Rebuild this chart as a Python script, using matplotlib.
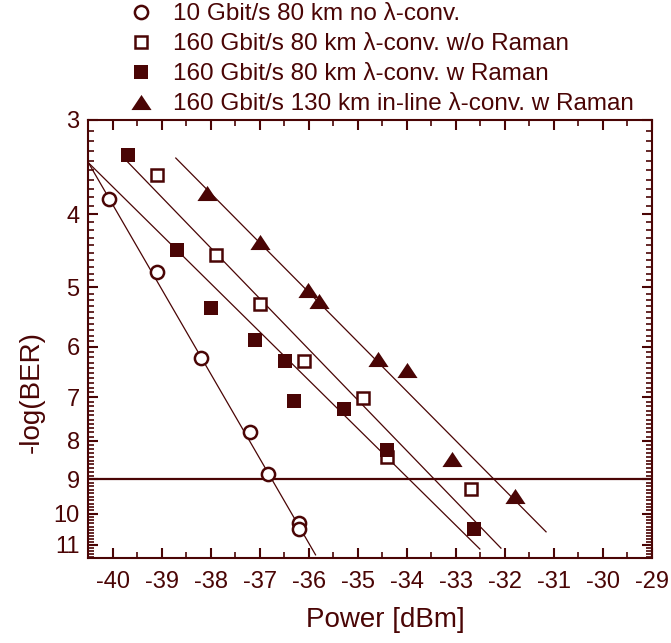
import numpy as np
import matplotlib
matplotlib.use('Agg')
import matplotlib.pyplot as plt
from matplotlib.ticker import FixedLocator, NullFormatter, FixedFormatter
from matplotlib.lines import Line2D

# measured points
p10_x = [-40.08, -39.10, -38.20, -37.20, -36.82, -36.20, -36.20]
p10_y = [3.82, 4.78, 6.21, 7.79, 8.86, 10.29, 10.48]

noram_x = [-39.10, -37.90, -37.00, -36.10, -34.90, -34.41, -32.69]
noram_y = [3.55, 4.53, 5.27, 6.27, 7.02, 8.41, 9.27]

ram_x = [-39.69, -38.69, -38.00, -37.10, -36.49, -36.29, -35.29, -34.41, -32.63]
ram_y = [3.34, 4.46, 5.33, 5.88, 6.27, 7.09, 7.26, 8.23, 10.48]

inline_x = [-38.08, -37.00, -36.02, -35.80, -34.59, -34.00, -33.08, -31.80]
inline_y = [3.75, 4.36, 5.05, 5.22, 6.23, 6.44, 8.46, 9.47]

# fitted lines (end points)
fit_lines = [
    ([-40.49, -35.86], [3.42, 11.34]),
    ([-40.49, -32.51], [3.42, 11.14]),
    ([-39.73, -32.08], [3.39, 11.11]),
    ([-38.71, -31.16], [3.37, 10.57]),
]
ber_limit = 9

labels = ['10 Gbit/s 80 km no λ-conv.',
          '160 Gbit/s 80 km λ-conv. w/o Raman',
          '160 Gbit/s 80 km λ-conv. w Raman',
          '160 Gbit/s 130 km in-line λ-conv. w Raman']

C = '#4a0505'
plt.rcParams['font.family'] = ['Liberation Sans', 'DejaVu Sans']
plt.rcParams['text.color'] = C

fig = plt.figure(figsize=(6.71, 6.43), dpi=100)
ax = fig.add_axes([88/671, 1-558/643, 564/671, 438/643])

for xs, ys in fit_lines:
    ax.plot(xs, ys, color=C, lw=0.9, zorder=2)
ax.axhline(ber_limit, color=C, lw=1.6, zorder=2)

tri = [(0, 0.75), (-1, -0.75), (1, -0.75)]
ax.plot(p10_x, p10_y, 'o', ms=9.5, mfc='white', mec=C, mew=1.8, zorder=3)
ax.plot(noram_x, noram_y, 's', ms=9, mfc='white', mec=C, mew=1.8, zorder=3)
ax.plot(ram_x, ram_y, 's', ms=10, mfc=C, mec=C, mew=0, zorder=3)
ax.plot(inline_x, inline_y, marker=tri, ls='none', ms=14.5, mfc=C, mec=C, mew=0, zorder=3)

ax.set_yscale('log')
ax.set_ylim(11.45, 3)
ax.set_xlim(-40.5, -29)

major_y = list(range(3, 12))
minor_y = [v / 10 for v in range(31, 115) if v % 10 != 0]
ax.yaxis.set_major_locator(FixedLocator(major_y))
ax.yaxis.set_major_formatter(FixedFormatter([str(v) for v in major_y]))
ax.yaxis.set_minor_locator(FixedLocator(minor_y))
ax.yaxis.set_minor_formatter(NullFormatter())
ax.set_xticks(np.arange(-40, -28.5, 1))
ax.set_xticklabels([str(v) for v in range(-40, -28)])
ax.set_xticks(np.arange(-39.5, -29, 1), minor=True)

for s in ax.spines.values():
    s.set_color(C)
    s.set_linewidth(1.5)
ax.tick_params(which='both', direction='in', top=True, right=True, colors=C,
               labelcolor=C, labelsize=17)
ax.tick_params(which='major', length=7, width=1.5)
ax.tick_params(which='minor', length=4, width=1.2)
ax.tick_params(axis='x', pad=9)
ax.tick_params(axis='y', pad=6)

fig.text(385/671, 1-620/643, 'Power [dBm]', ha='center', va='center', fontsize=20, color=C)
fig.text(32/671, 1-392/643, '-log(BER)', ha='center', va='center', rotation=90,
         fontsize=20, color=C)

handles = [
    Line2D([], [], ls='none', marker='o', ms=9.5, mfc='white', mec=C, mew=1.8),
    Line2D([], [], ls='none', marker='s', ms=9, mfc='white', mec=C, mew=1.8),
    Line2D([], [], ls='none', marker='s', ms=10, mfc=C, mec=C, mew=0),
    Line2D([], [], ls='none', marker=tri, ms=14.5, mfc=C, mec=C, mew=0),
]
leg = fig.legend(handles, labels, loc='upper left', bbox_to_anchor=(126/671, 1 - 3/643),
                 frameon=False, fontsize=17.5, handlelength=1.2, handletextpad=0.74,
                 labelspacing=0.33, borderaxespad=0, borderpad=0)
for t in leg.get_texts():
    t.set_color(C)

fig.savefig('out.png', dpi=100)
